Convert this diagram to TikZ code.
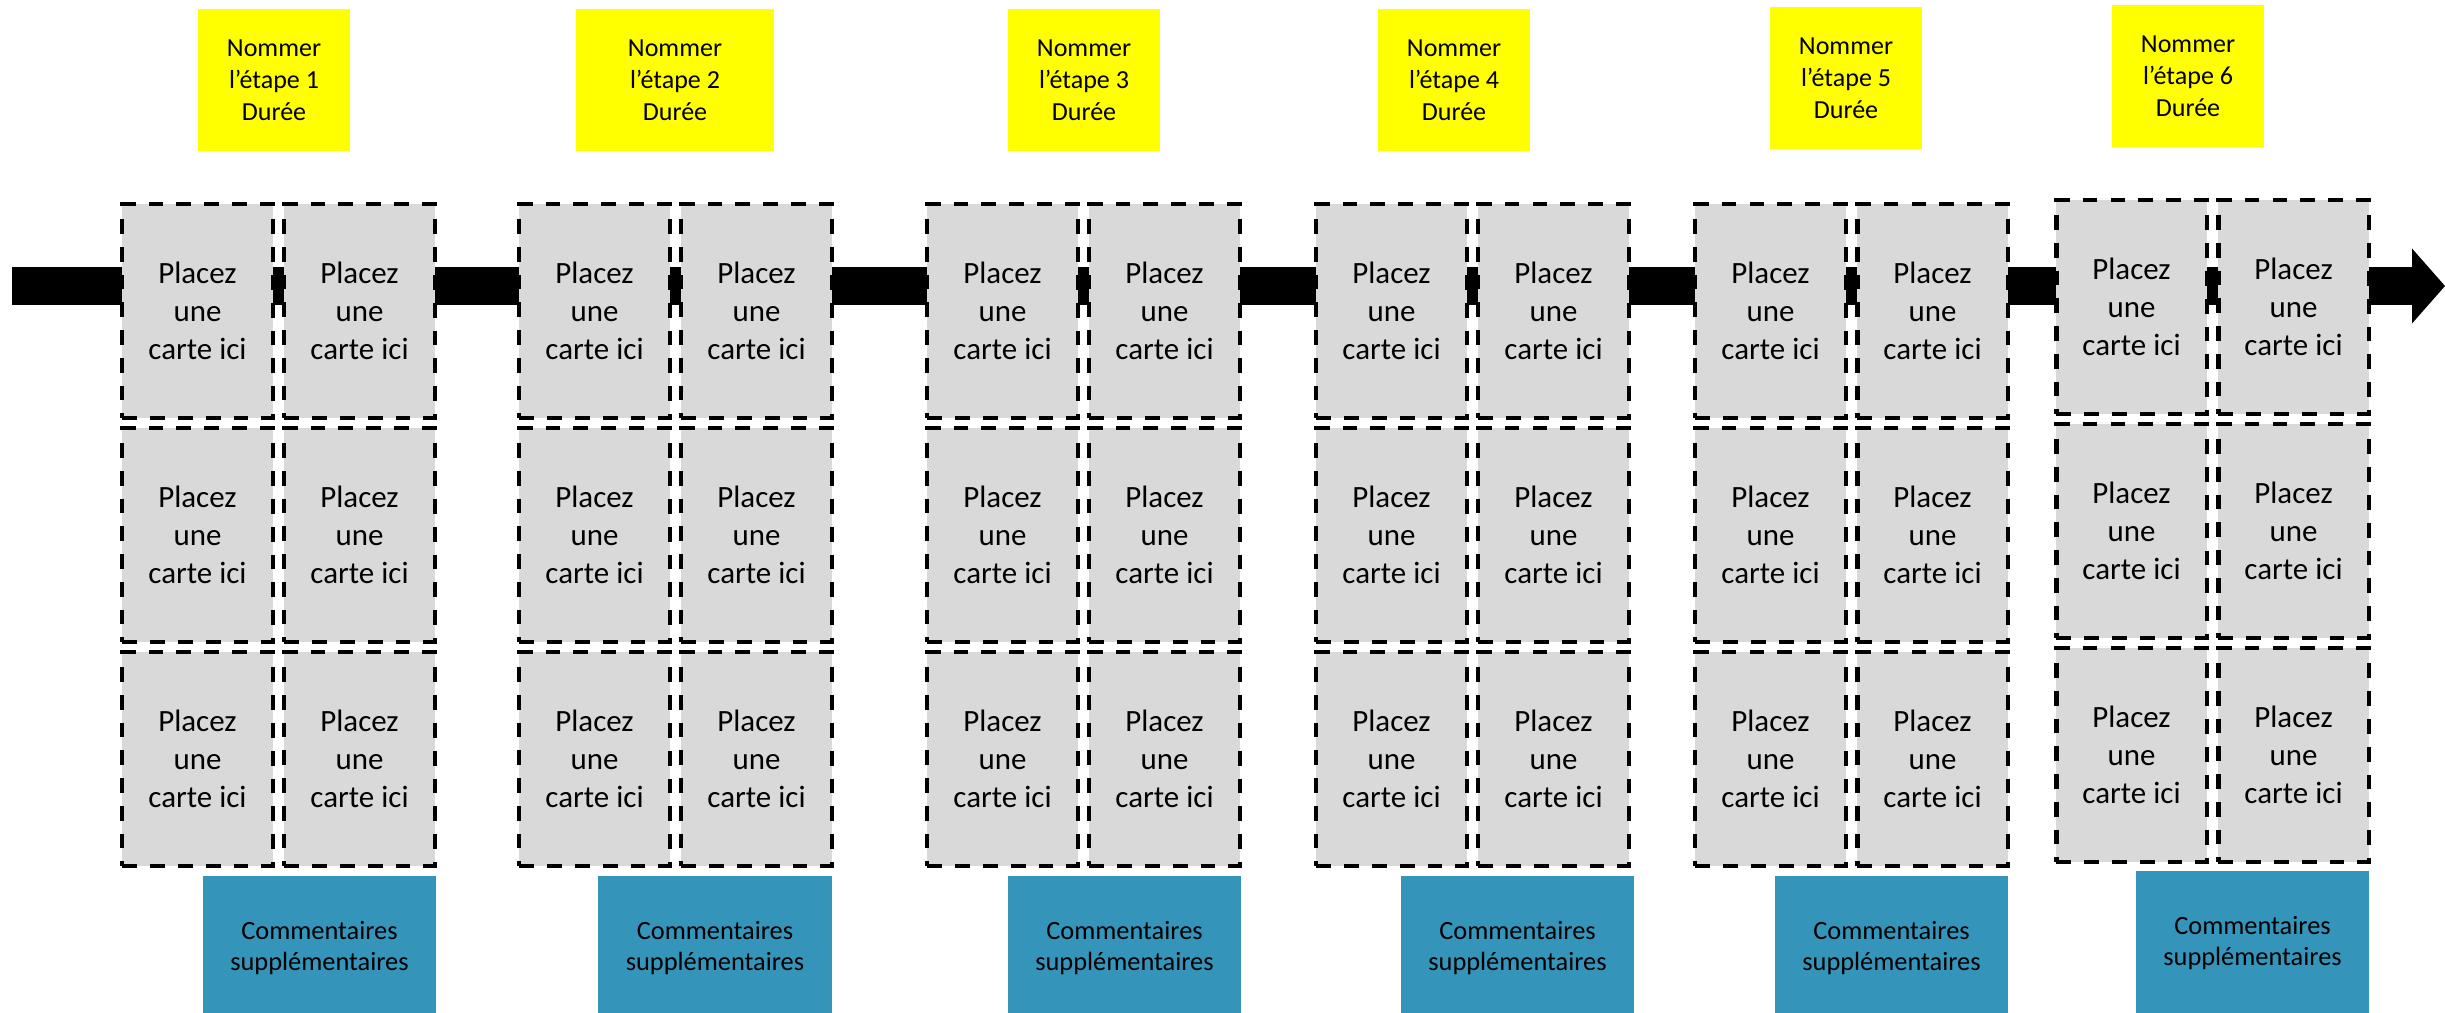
\documentclass[tikz,border=0pt]{standalone}
\usepackage{fontspec}
\setmainfont{Carlito}
\usepackage{xcolor}
\usetikzlibrary{arrows.meta, positioning}
\definecolor{stepYellow}{HTML}{FFFF00}
\definecolor{noteBlue}{HTML}{3494BA}
\definecolor{cardGray}{HTML}{D9D9D9}

\begin{document}
\begin{tikzpicture}[x=0.01cm, y=-0.01cm,
    cardbox/.style={rectangle, draw=black, fill=cardGray, line width=1.15pt, dash pattern=on 4.2pt off 3.7pt,
      minimum width=1.50cm, minimum height=2.13cm, inner sep=0pt, align=center,
      font=\fontsize{8.8}{10.8}\selectfont},
    stepbox/.style={rectangle, fill=stepYellow, minimum width=1.52cm, minimum height=1.42cm,
      inner sep=0pt, align=center, font=\fontsize{7.4}{9.1}\selectfont},
    notebox/.style={rectangle, fill=noteBlue, minimum width=2.33cm, minimum height=1.44cm,
      inner sep=0pt, align=center, font=\fontsize{7.5}{8.8}\selectfont},
    tlarrow/.style={line width=0.38cm, -{Triangle[length=0.33cm, width=0.75cm, line width=0pt]}}
  ]
  \useasboundingbox (0,0) rectangle (2445,1013);

  % timeline
  \coordinate (tlstart) at (12,286);
  \coordinate (tlend) at (2445,286);
  \draw[tlarrow] (tlstart) -- (tlend);

  % card slots, two columns and three rows per step
  \foreach \g/\lx/\ty in {1/121/311, 2/518/311, 3/926/311, 4/1315/311, 5/1694/311, 6/2055/307}
    \foreach \r in {0,1,2}
      \foreach \c in {0,1}
        \node[cardbox] (card\g\r\c) at (\lx+76.5+162*\c, \ty+224*\r) {Placez\\une\\carte ici};

  % step names
  \node[stepbox] (step1) at (274,80) {Nommer\\l’étape 1\\Durée};
  \node[stepbox, minimum width=1.98cm] (step2) at (675,80) {Nommer\\l’étape 2\\Durée};
  \node[stepbox] (step3) at (1084,80) {Nommer\\l’étape 3\\Durée};
  \node[stepbox] (step4) at (1454,80) {Nommer\\l’étape 4\\Durée};
  \node[stepbox] (step5) at (1846,78) {Nommer\\l’étape 5\\Durée};
  \node[stepbox] (step6) at (2188,76) {Nommer\\l’étape 6\\Durée};

  % comments
  \node[notebox] (note1) at (319.5,948) {Commentaires\\supplémentaires};
  \node[notebox] (note2) at (715,948) {Commentaires\\supplémentaires};
  \node[notebox] (note3) at (1124.5,948) {Commentaires\\supplémentaires};
  \node[notebox] (note4) at (1517.5,948) {Commentaires\\supplémentaires};
  \node[notebox] (note5) at (1891.5,948) {Commentaires\\supplémentaires};
  \node[notebox] (note6) at (2252.5,943) {Commentaires\\supplémentaires};
\end{tikzpicture}
\end{document}
